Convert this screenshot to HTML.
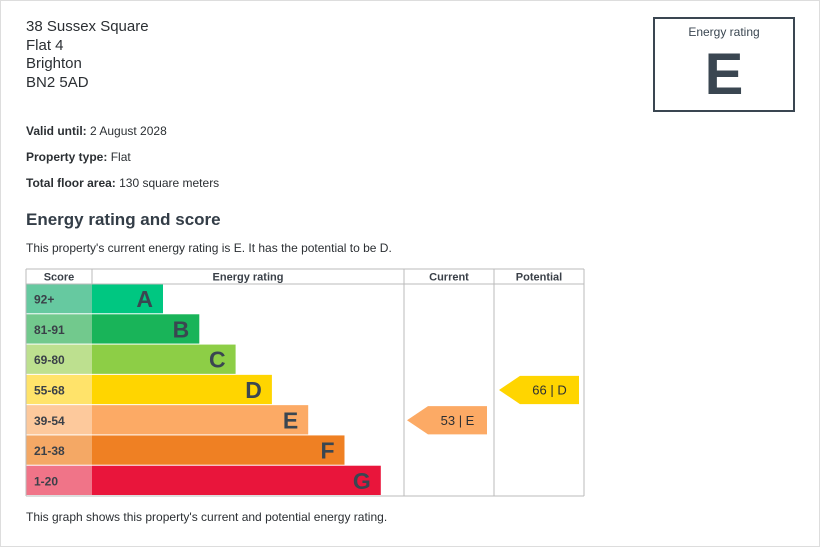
<!DOCTYPE html>
<html><head><meta charset="utf-8"><style>
body{margin:0;width:820px;height:547px;overflow:hidden;background:#fff;font-family:"Liberation Sans",sans-serif;color:#2b2f33}
#frame{position:absolute;left:0;top:0;width:818px;height:545px;border:1px solid #ddd}
.t{position:absolute;white-space:nowrap;line-height:1}
.addr{font-size:15px;left:26px}
.meta{font-size:12px;left:26px}
b{font-weight:bold}
</style></head><body>
<div id="frame"></div>
<div class="t addr" style="top:19px">38 Sussex Square</div>
<div class="t addr" style="top:38px">Flat 4</div>
<div class="t addr" style="top:56px">Brighton</div>
<div class="t addr" style="top:75px">BN2 5AD</div>
<div class="t meta" style="top:125px"><b>Valid until:</b> 2 August 2028</div>
<div class="t meta" style="top:151px"><b>Property type:</b> Flat</div>
<div class="t meta" style="top:177px"><b>Total floor area:</b> 130 square meters</div>
<div class="t" style="top:211px;left:26px;font-size:17px;font-weight:bold;color:#333d47">Energy rating and score</div>
<div class="t meta" style="top:242px">This property's current energy rating is E. It has the potential to be D.</div>
<div class="t meta" style="top:511px">This graph shows this property's current and potential energy rating.</div>
<div style="position:absolute;left:653px;top:17px;width:138px;height:91px;border:2px solid #3a4651">
<div class="t" style="top:7px;width:100%;text-align:center;font-size:12px;color:#3a4651">Energy rating</div>
<div class="t" style="top:27px;width:100%;text-align:center;font-size:58px;font-weight:bold;color:#3a4651">E</div>
</div>
<svg id="chart" style="position:absolute;left:0;top:0" width="820" height="547"></svg>
<script>
const bands=["A","B","C","D","E","F","G"];
const scoreRanges=["92+","81-91","69-80","55-68","39-54","21-38","1-20"];
const barColors=["#00c781","#19b459","#8dce46","#ffd500","#fcaa65","#ef8023","#e9153b"];
const scoreColors=["#66c9a0","#72c98d","#bde08f","#ffe36a","#fdc99c","#f4a865","#f07488"];
const currentScore=53, currentBand="E";
const potentialScore=66, potentialBand="D";
const ns="http://www.w3.org/2000/svg";
const svg=document.getElementById('chart');
const L=26,R=584,T=269,H=15,B=496,c1=92,c2=404,c3=494;
const rowH=(B-T-H)/bands.length;
const rowY=i=>T+H+i*rowH;
const barW=i=>71+i*36.3;
function mk(tag,attrs,parent){const e=document.createElementNS(ns,tag);for(const k in attrs)e.setAttribute(k,attrs[k]);(parent||svg).appendChild(e);return e;}
const ff='Liberation Sans, sans-serif';
// header
[["Score",L,c1],["Energy rating",c1,c2],["Current",c2,c3],["Potential",c3,R]].forEach(h=>{
 const t=mk('text',{x:(h[1]+h[2])/2,y:T+11.5,'text-anchor':'middle','font-size':11,'font-weight':'bold','font-family':ff,fill:'#3a4048'});
 
 
 t.textContent=h[0];
});
bands.forEach((b,i)=>{
 const y=rowY(i);
 const s=mk('rect',{x:L,y:y,width:c1-L,height:rowH-1,fill:scoreColors[i]});
 
 
 const st=mk('text',{x:L+8,y:y+rowH/2+4.5,'font-size':12,'font-weight':'bold','font-family':ff,fill:'#3a4048'});
 
 
 st.textContent=scoreRanges[i];
 const r=mk('rect',{x:c1,y:y,width:barW(i),height:rowH-1,fill:barColors[i]});
 
 
 const bt=mk('text',{x:c1+barW(i)-10,y:y+rowH/2+8,'text-anchor':'end','font-size':23,'font-weight':'bold','font-family':ff,fill:'#3a4651'});
 
 
 bt.textContent=b;
});
// grid lines
[[L,T,R,T],[L,T+H,R,T+H],[L,B,R,B],[L,T,L,B],[c1,T,c1,T+H],[c2,T,c2,B],[c3,T,c3,B],[R,T,R,B]].forEach((l,k)=>{
 const g=mk('line',{x1:l[0],y1:l[1],x2:l[2],y2:l[3],stroke:'#bbb','stroke-width':1});
 
 
});
function arrow(score,band,x0,name){
 const i=bands.indexOf(band),y=rowY(i)+1,h=rowH-2,w=80,tip=21;
 const p=mk('polygon',{points:`${x0},${y+h/2} ${x0+tip},${y} ${x0+w},${y} ${x0+w},${y+h} ${x0+tip},${y+h}`,fill:barColors[i]});
 
 
 const t=mk('text',{x:x0+tip+(w-tip)/2,y:y+h/2+4.5,'text-anchor':'middle','font-size':13,'font-family':ff,fill:'#2b2f33'});
 
 
 t.textContent=score+' | '+band;
}
arrow(currentScore,currentBand,407,'current-rating');
arrow(potentialScore,potentialBand,499,'potential-rating');
</script>
</body></html>
